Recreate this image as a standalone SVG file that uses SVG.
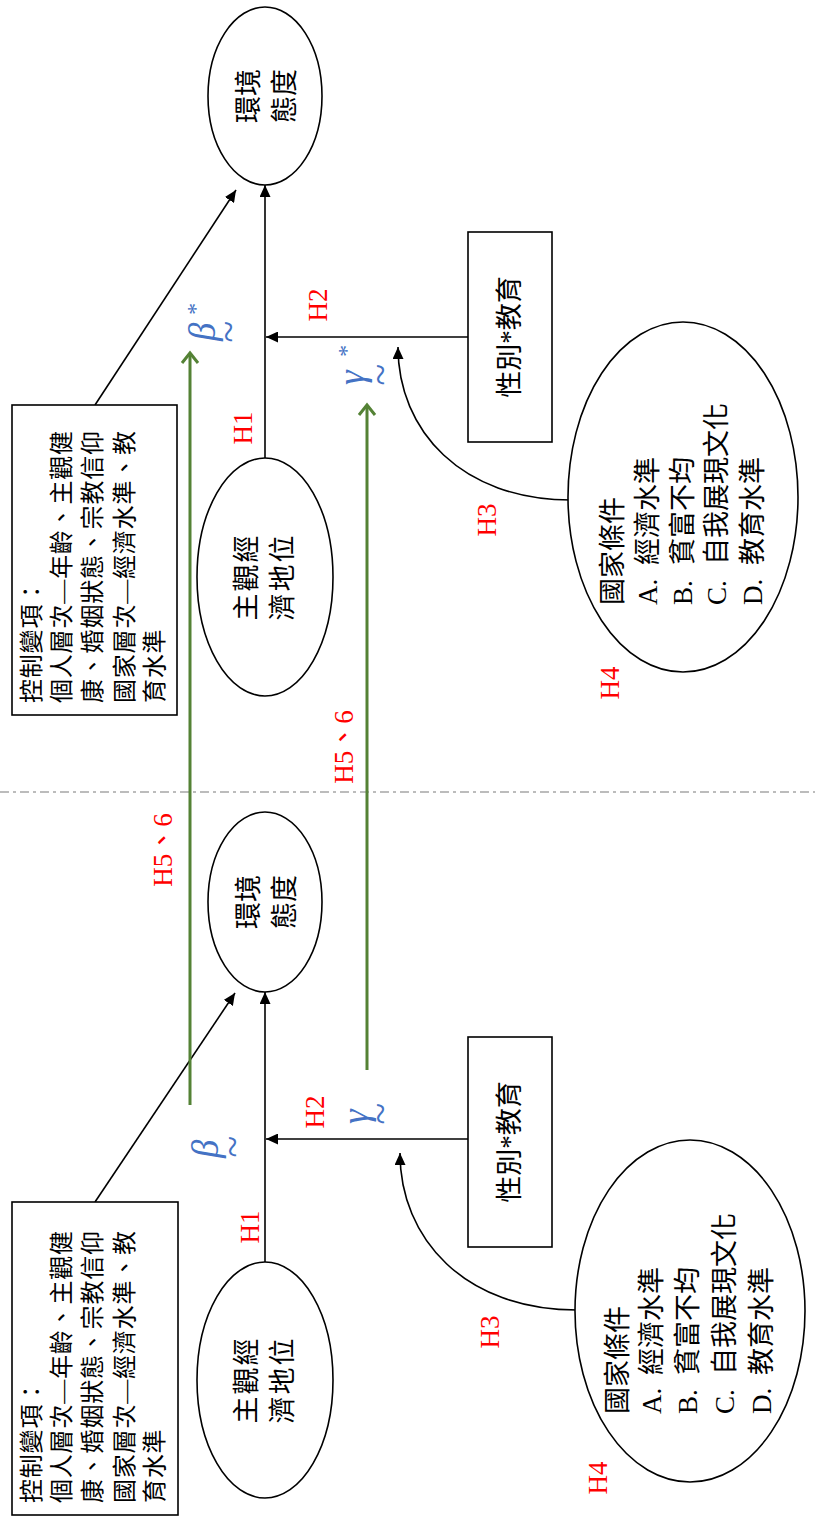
<svg xmlns="http://www.w3.org/2000/svg" width="815" height="1521" viewBox="0 0 815 1521">
<defs>
<style>
.t{font-family:"Liberation Serif","Noto Sans CJK TC",serif;fill:#000;dominant-baseline:central}
.c{font-size:27px}
.cb{font-size:24px;letter-spacing:0.8px}
.h{font-family:"Liberation Serif","Noto Sans CJK TC",serif;font-size:27px;fill:#FF0000;text-anchor:middle;dominant-baseline:central}
.g{font-family:"Liberation Serif",serif;font-style:italic;fill:#4472C4}
.shape{fill:#fff;stroke:#000;stroke-width:1.6}
.ln{stroke:#000;stroke-width:1.6;fill:none}
.gr{stroke:#548235;stroke-width:3;fill:none}
</style>
<marker id="ah" markerUnits="userSpaceOnUse" markerWidth="12" markerHeight="11" refX="12" refY="5.5" orient="auto"><path d="M0,0 L12,5.5 L0,11 z" fill="#000"/></marker>
<marker id="gh" markerUnits="userSpaceOnUse" markerWidth="14" markerHeight="20" refX="11" refY="10" orient="auto"><path d="M1,2 L11,10 L1,18" fill="none" stroke="#548235" stroke-width="3"/></marker>
</defs>
<rect width="815" height="1521" fill="#fff"/>
<g transform="translate(0,1521) rotate(-90)">
<g id="connectors">
<line x1="729" y1="0" x2="729" y2="815" stroke="#A6A6A6" stroke-width="1.5" stroke-dasharray="9,4,3,4"/>
<line class="ln" x1="1061" y1="265" x2="1336" y2="265" marker-end="url(#ah)"/>
<line class="ln" x1="1116" y1="95" x2="1331" y2="236" marker-end="url(#ah)"/>
<line class="ln" x1="1184" y1="468" x2="1184" y2="266" marker-end="url(#ah)"/>
<path class="ln" d="M1021,571 C1021,462 1090,398 1174,398" marker-end="url(#ah)"/>
<line class="ln" x1="259" y1="265" x2="529" y2="265" marker-end="url(#ah)"/>
<line class="ln" x1="319" y1="95" x2="528" y2="235" marker-end="url(#ah)"/>
<line class="ln" x1="382" y1="468" x2="382" y2="266" marker-end="url(#ah)"/>
<path class="ln" d="M211,577 C211,465 282,400 368,400" marker-end="url(#ah)"/>
<line class="gr" x1="416" y1="190" x2="1168" y2="190" marker-end="url(#gh)"/>
<line class="gr" x1="451" y1="367" x2="1116" y2="367" marker-end="url(#gh)"/>
</g>
<g id="env-attitude-2">
<ellipse class="shape" cx="1425" cy="265" rx="89" ry="57"/>
<text class="t c" x="1425" y="249" text-anchor="middle">環境</text>
<text class="t c" x="1425" y="285" text-anchor="middle">態度</text>
</g>
<g id="ses-2">
<ellipse class="shape" cx="944" cy="265" rx="119" ry="68"/>
<text class="t c" x="944" y="247" text-anchor="middle" letter-spacing="2">主觀經</text>
<text class="t c" x="944" y="283" text-anchor="middle" letter-spacing="2">濟地位</text>
</g>
<g id="control-2">
<rect class="shape" x="806" y="12" width="310" height="165"/>
<text class="t cb" x="818" y="32">控制變項：</text>
<text class="t cb" x="818" y="62">個人層次—年齡、主觀健</text>
<text class="t cb" x="818" y="93">康、婚姻狀態、宗教信仰</text>
<text class="t cb" x="818" y="125">國家層次—經濟水準、教</text>
<text class="t cb" x="818" y="155">育水準</text>
</g>
<g id="gender-edu-2">
<rect class="shape" x="1079" y="468" width="210" height="84"/>
<text class="t c" x="1184" y="510" text-anchor="middle">性別*教育</text>
</g>
<g id="country-2">
<ellipse class="shape" cx="1024" cy="683" rx="175" ry="115"/>
<text class="t c" x="916" y="613">國家條件</text>
<text class="t c" x="916" y="648">A.<tspan x="956">經濟水準</tspan></text>
<text class="t c" x="916" y="683">B.<tspan x="956">貧富不均</tspan></text>
<text class="t c" x="916" y="717">C.<tspan x="956">自我展現文化</tspan></text>
<text class="t c" x="916" y="753">D.<tspan x="956">教育水準</tspan></text>
</g>
<g id="env-attitude-1">
<ellipse class="shape" cx="619" cy="265" rx="90" ry="57"/>
<text class="t c" x="619" y="249" text-anchor="middle">環境</text>
<text class="t c" x="619" y="285" text-anchor="middle">態度</text>
</g>
<g id="ses-1">
<ellipse class="shape" cx="141" cy="265" rx="118" ry="68"/>
<text class="t c" x="141" y="247" text-anchor="middle" letter-spacing="2">主觀經</text>
<text class="t c" x="141" y="283" text-anchor="middle" letter-spacing="2">濟地位</text>
</g>
<g id="control-1">
<rect class="shape" x="6" y="12" width="313" height="166"/>
<text class="t cb" x="18" y="32">控制變項：</text>
<text class="t cb" x="18" y="62">個人層次—年齡、主觀健</text>
<text class="t cb" x="18" y="93">康、婚姻狀態、宗教信仰</text>
<text class="t cb" x="18" y="125">國家層次—經濟水準、教</text>
<text class="t cb" x="18" y="155">育水準</text>
</g>
<g id="gender-edu-1">
<rect class="shape" x="274" y="468" width="210" height="84"/>
<text class="t c" x="379" y="510" text-anchor="middle">性別*教育</text>
</g>
<g id="country-1">
<ellipse class="shape" cx="210" cy="690" rx="171" ry="115"/>
<text class="t c" x="107" y="618">國家條件</text>
<text class="t c" x="107" y="652">A.<tspan x="146">經濟水準</tspan></text>
<text class="t c" x="107" y="688">B.<tspan x="146">貧富不均</tspan></text>
<text class="t c" x="107" y="725">C.<tspan x="146">自我展現文化</tspan></text>
<text class="t c" x="107" y="762">D.<tspan x="146">教育水準</tspan></text>
</g>
<g id="labels">
<text class="h" x="1093" y="243">H1</text>
<text class="h" x="1216" y="318">H2</text>
<text class="h" x="1001" y="487">H3</text>
<text class="h" x="838" y="610">H4</text>
<text class="h" x="774" y="344">H5、6</text>
<text class="h" x="294" y="250">H1</text>
<text class="h" x="409" y="315">H2</text>
<text class="h" x="189" y="490">H3</text>
<text class="h" x="43" y="598">H4</text>
<text class="h" x="671" y="163">H5、6</text>
<text class="g" x="1180" y="215" font-size="37">β</text>
<text class="g" x="1178" y="242" font-size="40">~</text>
<text class="g" x="1205" y="203" font-size="24">*</text>
<text class="g" x="1136" y="364" font-size="37">γ</text>
<text class="g" x="1135" y="394" font-size="40">~</text>
<text class="g" x="1163" y="354" font-size="24">*</text>
<text class="g" x="363" y="218" font-size="37">β</text>
<text class="g" x="363" y="246" font-size="40">~</text>
<text class="g" x="397" y="368" font-size="37">γ</text>
<text class="g" x="396" y="394" font-size="40">~</text>
</g>
</g>
</svg>
